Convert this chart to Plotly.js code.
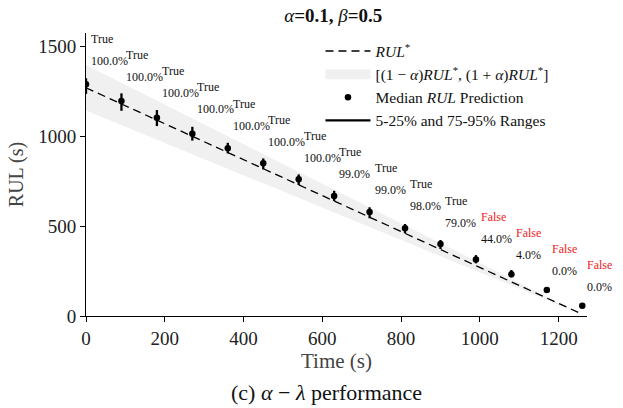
<!DOCTYPE html>
<html>
<head>
<meta charset="utf-8">
<script src="https://cdn.plot.ly/plotly-3.0.1.min.js"></script>
<style>html,body{margin:0;padding:0;background:#fff;}#chart{width:623px;height:408px;}</style>
</head>
<body>
<div id="chart"></div>
<script>
// ---- data ----
const alpha = 0.1;
const times = [0, 90, 180, 270, 360, 450, 540, 630, 720, 810, 900, 990, 1080, 1170, 1260];
const rulTrue = [1270, 1180, 1090, 1000, 910, 820, 730, 640, 550, 460, 370, 280, 190, 100, 10];
const medians = [1290, 1196, 1103, 1014, 933, 850, 761, 668, 579, 488, 401, 315, 232, 145, 57];
const lows = [1235, 1142, 1057, 976, 905, 816, 729, 640, 544, 460, 373, 293, 215, 138, 52];
const highs = [1323, 1239, 1146, 1053, 964, 877, 788, 697, 605, 512, 423, 339, 256, 152, 62];
const inBand = ["True","True","True","True","True","True","True","True","True","True","True","False","False","False","False"];
const pctLabels = ["100.0%","100.0%","100.0%","100.0%","100.0%","100.0%","100.0%","99.0%","99.0%","98.0%","79.0%","44.0%","4.0%","0.0%","0.0%"];
const xTicks = [0, 200, 400, 600, 800, 1000, 1200];
const yTicks = [0, 500, 1000, 1500];

// ---- derived ----
const upper = rulTrue.map(v => (1 + alpha) * v);
const lower = rulTrue.map(v => (1 - alpha) * v);
const bandX = times.concat(times.slice().reverse());
const bandY = upper.concat(lower.slice().reverse());
const segX = [], segY = [];
times.forEach((t, i) => { segX.push(t, t, null); segY.push(lows[i], highs[i], null); });

const FONT = "Liberation Serif, Times New Roman, serif";
const BAND = "#f0f0f0";

const data = [
  {x: bandX, y: bandY, mode: "lines", fill: "toself", fillcolor: BAND,
   line: {width: 0, color: "rgba(0,0,0,0)"}, showlegend: false, hoverinfo: "skip"},
  {x: times, y: rulTrue, mode: "lines", name: "<i>RUL</i><sup>*</sup>", legendrank: 1,
   line: {color: "#000", width: 1.3, dash: "8px,5px"}, hoverinfo: "skip"},
  {x: [null], y: [null], mode: "lines", legendrank: 2,
   name: "[(1 − <i>α</i>)<i>RUL</i><sup>*</sup>, (1 + <i>α</i>)<i>RUL</i><sup>*</sup>]",
   line: {color: BAND, width: 14}},
  {x: segX, y: segY, mode: "lines", name: "5-25% and 75-95% Ranges", legendrank: 4,
   line: {color: "#000", width: 2.3}, connectgaps: false},
  {x: times, y: medians, mode: "markers", name: "Median <i>RUL</i> Prediction", legendrank: 3,
   marker: {color: "#000", size: 6.5}}
];

const annotations = [];
times.forEach((t, i) => {
  annotations.push({x: t, y: rulTrue[i] + 272, xref: "x", yref: "y", text: inBand[i],
    showarrow: false, xanchor: "left", yanchor: "middle", xshift: 3,
    font: {family: FONT, size: 12, color: inBand[i] === "True" ? "#111" : "#ee1c1c"}});
  annotations.push({x: t, y: rulTrue[i] + 150, xref: "x", yref: "y", text: pctLabels[i],
    showarrow: false, xanchor: "left", yanchor: "middle", xshift: 3,
    font: {family: FONT, size: 12, color: "#111"}});
});
annotations.push({x: 0.48, y: -0.272, xref: "paper", yref: "paper", yanchor: "middle",
  text: "(c) <i>α</i> − <i>λ</i> performance", showarrow: false,
  font: {family: FONT, size: 22, color: "#111"}});

const layout = {
  width: 623, height: 408,
  margin: {l: 86, r: 36, t: 33, b: 92},
  paper_bgcolor: "#fff", plot_bgcolor: "#fff",
  font: {family: FONT, color: "#111", size: 18},
  title: {text: "<i>α</i><b>=0.1, </b><i>β</i><b>=0.5</b>", x: 0.535, xanchor: "center",
          y: 0.963, yanchor: "middle", font: {family: FONT, size: 19, color: "#111"}},
  xaxis: {range: [0, 1272], tickvals: xTicks, ticktext: xTicks.map(String),
          showgrid: false, zeroline: false, showline: true, linecolor: "#000", linewidth: 1,
          ticks: "outside", ticklen: 5, tickcolor: "#000",
          tickfont: {family: FONT, size: 19, color: "#222"},
          title: {text: "Time (s)", standoff: 2, font: {family: FONT, size: 21, color: "#444"}}},
  yaxis: {range: [0, 1575], tickvals: yTicks, ticktext: yTicks.map(String),
          showgrid: false, zeroline: false, showline: true, linecolor: "#000", linewidth: 1,
          ticks: "outside", ticklen: 5, tickcolor: "#000",
          tickfont: {family: FONT, size: 19, color: "#222"},
          title: {text: "RUL (s)", standoff: 9, font: {family: FONT, size: 20, color: "#444"}}},
  showlegend: true,
  legend: {x: 0.468, y: 0.995, xanchor: "left", yanchor: "top", bgcolor: "rgba(0,0,0,0)",
           borderwidth: 0, itemwidth: 45, tracegroupgap: 0, traceorder: "normal",
           font: {family: FONT, size: 15.5, color: "#111"}},
  annotations: annotations
};

Plotly.newPlot("chart", data, layout, {displayModeBar: false, staticPlot: true});
</script>
</body>
</html>
